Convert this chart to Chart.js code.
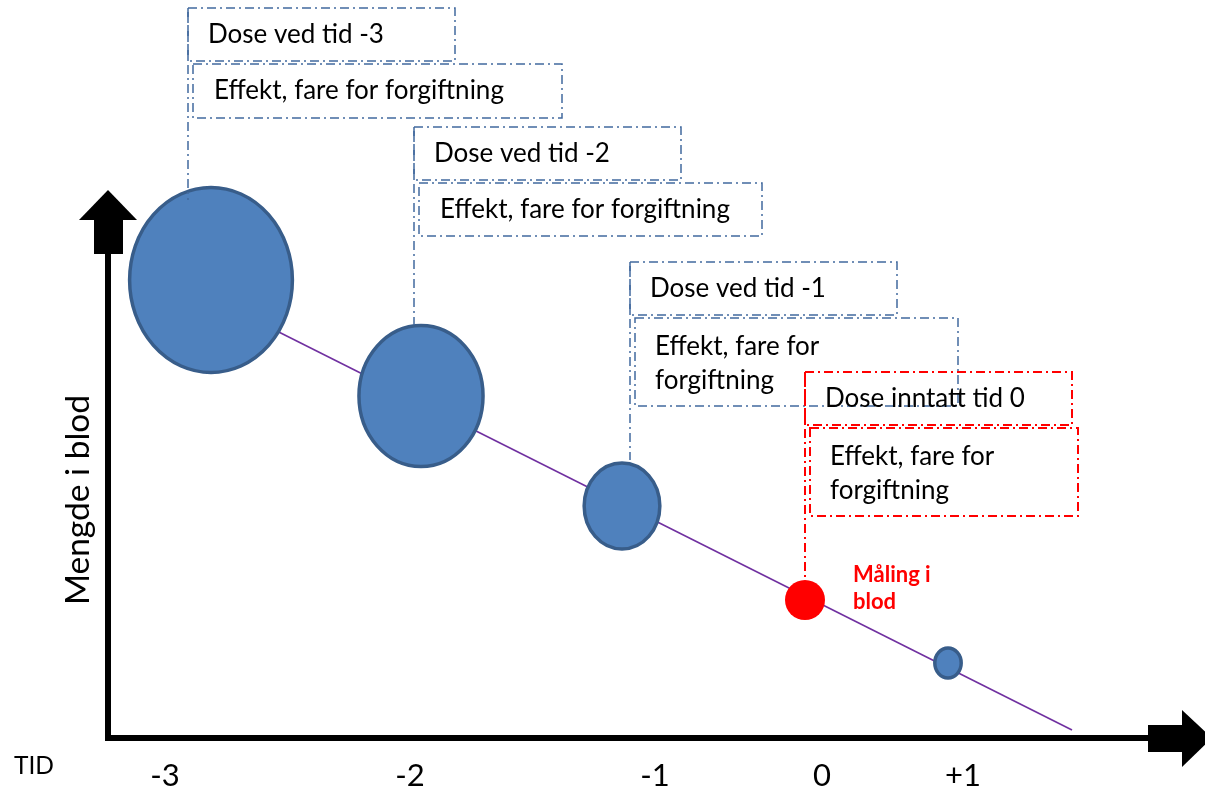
<!DOCTYPE html>
<html lang="no">
<head>
<meta charset="utf-8">
<title>Mengde i blod over tid</title>
<script src="https://cdn.jsdelivr.net/npm/chart.js@4.4.1/dist/chart.umd.min.js"></script>
<style>
  html, body { margin: 0; padding: 0; background: #fff; }
  #wrap { width: 1205px; height: 788px; }
</style>
</head>
<body>
<div id="wrap"><canvas id="chart"></canvas></div>
<script>
// ===== Data
const doseTid = [-3.055, -2.005, -1.0, 0.63];
const doseMengde = [9.16, 6.84, 4.64, 1.5];
const doseStorrelse = [1.85, 1.41, 0.86, 0.3];      // halv høyde, i mengde-enheter
const malingTid = [-0.085];
const malingMengde = [2.76];
const malingStorrelse = [0.4];
const trendTid = [-3.055, 1.25];
const trendMengde = [8.8, 0.16];
const tidTicks = ['-3', '-2', '-1', '0', '+1'];
const tidTickPos = [-3.285, -2.06, -0.835, 0, 0.705];
const doseTekst = ['Dose ved tid -3', 'Dose ved tid -2', 'Dose ved tid -1', 'Dose inntatt tid 0'];
const effektTekst = [
  ['Effekt, fare for forgiftning'],
  ['Effekt, fare for forgiftning'],
  ['Effekt, fare for', 'forgiftning'],
  ['Effekt, fare for', 'forgiftning']
];
const malingTekst = ['Måling i', 'blod'];

// ===== Layout (ikke data)
const FONT = 'Lato, "Open Sans", sans-serif';
const BLUE_BOX = '#41699e';
const RED = '#ff0000';
const callouts = [
  { tid: -3.17,  top: 14.6,  bunn: 10.76, w2: 369, h2: 54, color: BLUE_BOX },
  { tid: -2.04,  top: 12.22, bunn: 8.26,  w2: 343, h2: 53, color: BLUE_BOX },
  { tid: -0.96,  top: 9.52,  bunn: 5.56,  w2: 323, h2: 88, color: BLUE_BOX },
  { tid: -0.085, top: 7.32,  bunn: 3.16,  w2: 268, h2: 88, color: RED }
];
const axisLayout = { originTid: -3.57, yTipMengde: 10.96, xTipTid: 1.95 };

// ===== Utils
function dashRect(ctx, x, y, w, h) {
  ctx.beginPath();
  ctx.moveTo(x, y); ctx.lineTo(x + w, y); ctx.lineTo(x + w, y + h); ctx.lineTo(x, y + h); ctx.closePath();
  ctx.stroke();
}

function ellipse(ctx, cx, cy, rx, ry, fill, stroke) {
  ctx.beginPath();
  ctx.ellipse(cx, cy, rx, ry, 0, 0, Math.PI * 2);
  ctx.fillStyle = fill; ctx.fill();
  if (stroke) { ctx.strokeStyle = stroke; ctx.lineWidth = 3.5; ctx.stroke(); }
}

// ===== Plugin: akser, ellipser og tekstbokser
const diagramPlugin = {
  id: 'diagram',
  afterDatasetsDraw(chart) {
    const ctx = chart.ctx;
    const xs = chart.scales.x, ys = chart.scales.y;
    const X = v => xs.getPixelForValue(v), Y = v => ys.getPixelForValue(v);
    ctx.save();

    // akser med piler
    const ox = X(axisLayout.originTid), oy = Y(0);
    const yTip = Y(axisLayout.yTipMengde), xTip = X(axisLayout.xTipTid);
    ctx.fillStyle = '#000';
    ctx.fillRect(ox - 3, yTip + 62, 6, oy - yTip - 59);
    ctx.fillRect(ox - 14, yTip + 29, 29, 35);
    ctx.beginPath();
    ctx.moveTo(ox, yTip); ctx.lineTo(ox + 29, yTip + 30); ctx.lineTo(ox - 29, yTip + 30); ctx.closePath();
    ctx.fill();
    ctx.fillRect(ox - 3, oy - 3, xTip - ox - 64 + 3, 6);
    ctx.fillRect(xTip - 64, oy - 13, 35, 27);
    ctx.beginPath();
    ctx.moveTo(xTip, oy); ctx.lineTo(xTip - 30, oy - 28); ctx.lineTo(xTip - 30, oy + 29); ctx.closePath();
    ctx.fill();

    // doser
    doseTid.forEach((t, i) => {
      const ry = Math.abs(Y(doseMengde[i] + doseStorrelse[i]) - Y(doseMengde[i]));
      ellipse(ctx, X(t), Y(doseMengde[i]), ry * 0.88, ry, '#4f81bd', '#385d8a');
    });
    malingTid.forEach((t, i) => {
      const r = Math.abs(Y(malingMengde[i] + malingStorrelse[i]) - Y(malingMengde[i]));
      ellipse(ctx, X(t), Y(malingMengde[i]), r, r, RED, null);
    });

    // tekstbokser
    callouts.forEach((c, i) => {
      const ax = X(c.tid), top = Y(c.top), bunn = Y(c.bunn);
      ctx.strokeStyle = c.color;
      ctx.lineWidth = c.color === RED ? 2 : 1.5;
      ctx.setLineDash([9, 4, 2, 4]);
      ctx.beginPath(); ctx.moveTo(ax, top); ctx.lineTo(ax, bunn); ctx.stroke();
      dashRect(ctx, ax, top, 267, 53);
      dashRect(ctx, ax + 5, top + 56, c.w2, c.h2);
      ctx.setLineDash([]);
      ctx.fillStyle = '#000';
      ctx.font = '26px ' + FONT;
      ctx.textBaseline = 'middle';
      ctx.textAlign = 'left';
      ctx.fillText(doseTekst[i], ax + 20, top + 27);
      const lines = effektTekst[i];
      if (lines.length === 1) ctx.fillText(lines[0], ax + 26, top + 83);
      else lines.forEach((l, k) => ctx.fillText(l, ax + 25, top + 85 + k * 34));
    });

    // måling-tekst
    ctx.fillStyle = RED;
    ctx.font = 'bold 22px ' + FONT;
    ctx.textAlign = 'left';
    malingTekst.forEach((l, k) => ctx.fillText(l, X(malingTid[0]) + 48, Y(malingMengde[0]) - 25 + k * 27));

    // aksetekster
    ctx.fillStyle = '#000';
    ctx.font = '31px ' + FONT;
    ctx.textAlign = 'center';
    tidTicks.forEach((lbl, i) => ctx.fillText(lbl, X(tidTickPos[i]), oy + 38));
    ctx.font = '24.5px ' + FONT;
    ctx.textAlign = 'left';
    ctx.fillText('TID', 14, oy + 28);
    ctx.save();
    ctx.translate(ox - 30, Y(4.76));
    ctx.rotate(-Math.PI / 2);
    ctx.font = '33.5px ' + FONT;
    ctx.textAlign = 'center';
    ctx.fillText('Mengde i blod', 0, 0);
    ctx.restore();

    ctx.restore();
  }
};

// ===== Chart
new Chart(document.getElementById('chart'), {
  type: 'scatter',
  data: {
    datasets: [
      {
        label: 'Trend',
        data: trendTid.map((t, i) => ({ x: t, y: trendMengde[i] })),
        showLine: true,
        borderColor: '#7030a0',
        borderWidth: 1.6,
        pointRadius: 0
      },
      {
        label: 'Dose',
        data: doseTid.map((t, i) => ({ x: t, y: doseMengde[i] })),
        pointRadius: 0
      },
      {
        label: 'Måling',
        data: malingTid.map((t, i) => ({ x: t, y: malingMengde[i] })),
        pointRadius: 0
      }
    ]
  },
  options: {
    responsive: true,
    maintainAspectRatio: false,
    animation: false,
    layout: { padding: 0 },
    plugins: { legend: { display: false }, tooltip: { enabled: false } },
    scales: {
      x: { type: 'linear', display: false, min: -4.11, max: 1.915 },
      y: { type: 'linear', display: false, min: -1, max: 14.76 }
    }
  },
  plugins: [diagramPlugin]
});
</script>
</body>
</html>
